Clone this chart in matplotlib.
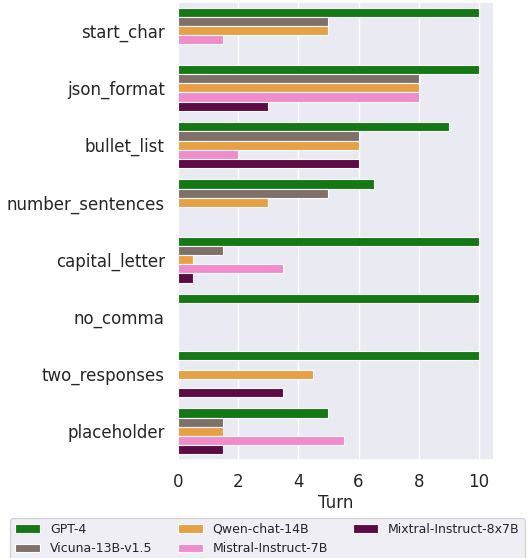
import matplotlib
matplotlib.use("Agg")
import matplotlib.pyplot as plt
import seaborn as sns
import numpy as np

categories = ["start_char", "json_format", "bullet_list", "number_sentences",
              "capital_letter", "no_comma", "two_responses", "placeholder"]
models = ["GPT-4", "Vicuna-13B-v1.5", "Qwen-chat-14B", "Mistral-Instruct-7B", "Mixtral-Instruct-8x7B"]
gpt4 = [10, 10, 9, 6.5, 10, 10, 10, 5]
vicuna = [5, 8, 6, 5, 1.5, 0, 0, 1.5]
qwen = [5, 8, 6, 3, 0.5, 0, 4.5, 1.5]
mistral = [1.5, 8, 2, 0, 3.5, 0, 0, 5.5]
mixtral = [0, 3, 6, 0, 0.5, 0, 3.5, 1.5]
series = [gpt4, vicuna, qwen, mistral, mixtral]
colors = ["#147814", "#7f7069", "#e8a045", "#f08ccc", "#5e0a45"]

sns.set_theme(style="darkgrid")
plt.rcParams["font.family"] = ["DejaVu Sans"]

fig = plt.figure(figsize=(5.28, 5.58), dpi=100)
ax = fig.add_axes([178/528, 1-460/558, 316/528, 458/558])

n = len(series)
w = 0.8 / n
y = np.arange(len(categories))
for i, (vals, c, m) in enumerate(zip(series, colors, models)):
    ax.barh(y - 0.4 + w*(i+0.5), vals, height=w, color=c, label=m,
            edgecolor="white", linewidth=0.8)

ax.set_ylim(len(categories)-0.5, -0.5)
ax.set_xlim(0, 10.5)
ax.set_xticks([0, 2, 4, 6, 8, 10])
ax.set_yticks(y)
ax.set_yticklabels(categories)
ax.tick_params(axis="both", labelsize=12)
ax.set_xlabel("Turn", fontsize=12, labelpad=2)
ax.grid(axis="y", visible=False)

handles, labels = ax.get_legend_handles_labels()
fig.legend(handles, labels, loc="upper left", bbox_to_anchor=(10/528, 1-518/558),
           ncol=3, fontsize=9, frameon=True, borderaxespad=0)

fig.savefig("out.png", dpi=100)
